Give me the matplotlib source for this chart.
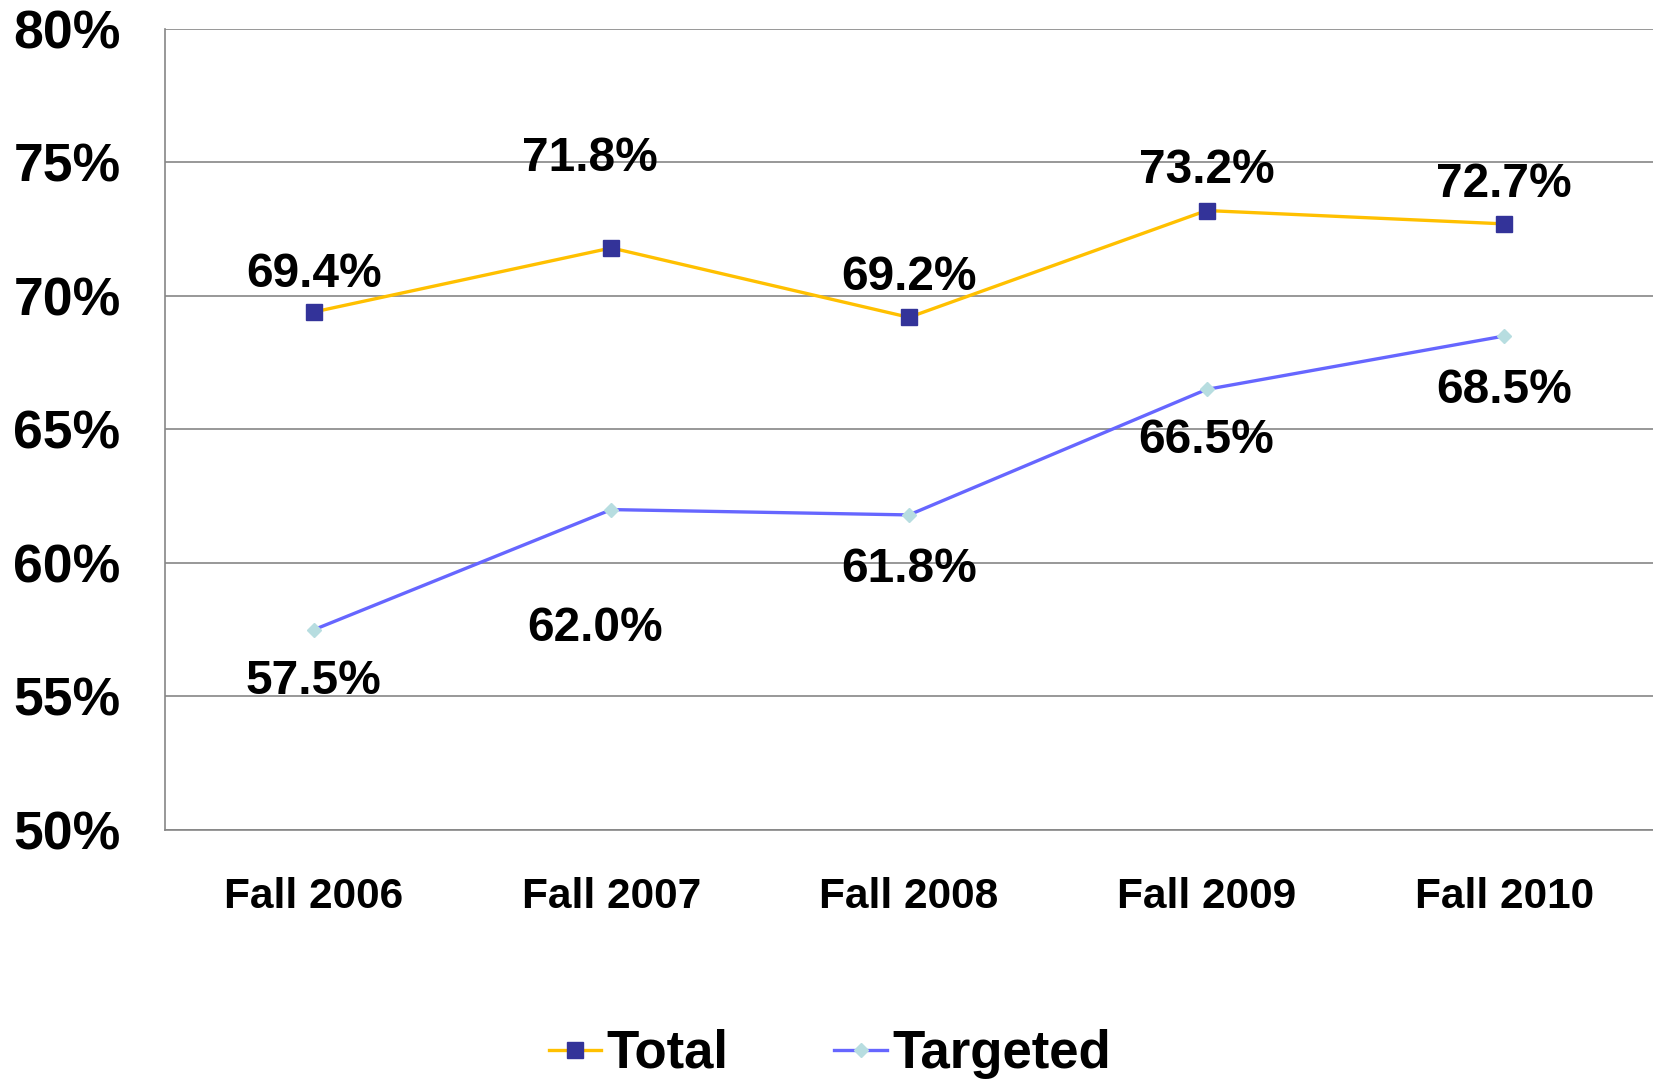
import matplotlib
matplotlib.use("Agg")
import matplotlib.pyplot as plt
from matplotlib.ticker import FuncFormatter

# data
years = ["Fall 2006", "Fall 2007", "Fall 2008", "Fall 2009", "Fall 2010"]
total = [69.4, 71.8, 69.2, 73.2, 72.7]
targeted = [57.5, 62.0, 61.8, 66.5, 68.5]
y_ticks = [50, 55, 60, 65, 70, 75, 80]

plt.rcParams['font.family'] = ['Liberation Sans', 'DejaVu Sans']
plt.rcParams['font.weight'] = 'bold'

fig = plt.figure(figsize=(16.53, 10.81), dpi=100)
ax = fig.add_axes([0.0998, 0.2322, 0.9002, 0.741])

x = list(range(len(years)))
ax.plot(x, total, color='#FFC000', lw=2.4, marker='s', ms=11,
        mfc='#333399', mec='#333399', label='Total', zorder=3)
ax.plot(x, targeted, color='#6666FF', lw=2.4, marker='D', ms=7.5,
        mfc='#B7DDE0', mec='#B7DDE0', label='Targeted', zorder=3)

# data labels (offsets in pixels, Excel placed two of them further away)
tot_off = [(0, 37), (-22, 89), (0, 40), (0, 40), (0, 39)]
tgt_off = [(0, -52), (-16, -119), (0, -55), (0, -51), (0, -54)]
for i, v in enumerate(total):
    ax.annotate(f"{v:.1f}%", (i, v), xytext=(tot_off[i][0] * 0.72, tot_off[i][1] * 0.72),
                textcoords='offset points', ha='center', va='center',
                fontsize=34.5, fontweight='bold')
for i, v in enumerate(targeted):
    ax.annotate(f"{v:.1f}%", (i, v), xytext=(tgt_off[i][0] * 0.72, tgt_off[i][1] * 0.72),
                textcoords='offset points', ha='center', va='center',
                fontsize=34.5, fontweight='bold')

ax.set_xlim(-0.5, 4.5)
ax.set_ylim(50, 80)
ax.set_yticks(y_ticks)
ax.yaxis.set_major_formatter(FuncFormatter(lambda v, p: f"{v:.0f}%"))
ax.set_xticks(x)
ax.set_xticklabels(years)
ax.tick_params(axis='y', length=0, pad=32, labelsize=38.5)
ax.tick_params(axis='x', length=0, pad=34, labelsize=30.5)
for lab in ax.get_yticklabels() + ax.get_xticklabels():
    lab.set_fontweight('bold')

ax.grid(axis='y', color='#868686', lw=1.2)
ax.set_axisbelow(True)
for side in ['top', 'right']:
    ax.spines[side].set_visible(False)
for side in ['left', 'bottom']:
    ax.spines[side].set_color('#868686')
    ax.spines[side].set_linewidth(1.2)

leg = fig.legend(loc='center', bbox_to_anchor=(0.502, 0.025), ncol=2, frameon=False,
                 prop={'size': 38, 'weight': 'bold'}, handlelength=1.0,
                 handletextpad=0.1, columnspacing=2.0)

fig.savefig('out.png', dpi=100)
